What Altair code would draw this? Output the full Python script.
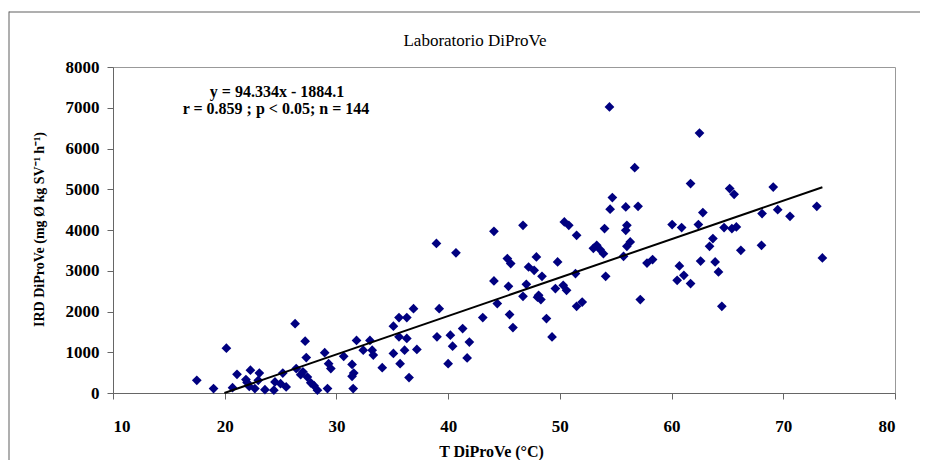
import altair as alt
import pandas as pd

# ---- data ----
temp = [
    17.5, 19.0, 20.15, 20.7, 21.1, 21.9, 22.3, 23.1, 22.7, 22.2, 23.6, 23.0, 24.4, 24.5,
    25.2, 25.0, 26.3, 27.2, 27.3, 26.4, 27.0, 27.4, 27.7, 28.3, 28.95, 29.3, 29.5, 29.2,
    25.5, 28.0, 22.0,
    38.95, 40.7, 36.9, 39.2, 35.6, 36.3, 43.1, 35.1, 41.3, 39.0, 40.2, 35.6, 36.3, 31.8,
    33.0, 41.9, 40.4, 32.4, 33.2, 37.2, 35.1, 36.1, 33.3, 30.65, 41.7, 31.4, 35.7, 40.0,
    34.1, 31.55, 31.4, 36.5, 31.5,
    54.44, 56.7, 54.7, 54.5, 55.9, 57.0, 46.7, 44.1, 50.4, 50.8, 51.5, 54.0, 56.0, 55.9,
    53.3, 53.6, 53.9, 56.3, 56.0, 55.7, 45.3, 45.6, 47.9, 47.2, 47.7, 49.8, 48.4, 57.8,
    58.3, 44.1, 45.4, 47.0, 46.7, 48.1, 48.3, 49.6, 50.3, 50.6, 51.4, 54.1, 51.5, 52.0,
    57.2, 44.4, 45.5, 45.8, 48.8, 49.3,
    62.5, 61.7, 65.2, 65.6, 69.1, 62.8, 73.0, 68.1, 69.5, 70.6, 60.05, 60.9, 62.4, 64.7,
    65.4, 65.8, 63.7, 63.4, 66.2, 68.05, 62.6, 63.9, 64.2, 60.7, 61.1, 60.5, 61.7, 64.5,
    73.5,
    53.0, 48.0, 26.8,
]
ird = [
    310, 110, 1100, 130, 460, 330, 560, 490, 110, 160, 80, 310, 70, 270,
    490, 230, 1700, 1270, 870, 600, 520, 390, 250, 70, 990, 720, 600, 110,
    150, 180, 260,
    3670, 3440, 2070, 2070, 1850, 1850, 1850, 1640, 1580, 1380, 1420, 1380, 1340, 1290,
    1290, 1250, 1150, 1050, 1050, 1070, 970, 1050, 930, 900, 860, 700, 720, 720,
    620, 490, 410, 380, 110,
    7020, 5530, 4795, 4510, 4565, 4580, 4115, 3968, 4197, 4115, 3870, 4034, 4115, 3993,
    3624, 3519, 3420, 3706, 3600, 3355, 3298, 3175, 3338, 3092, 3011, 3215, 2864, 3190,
    3274, 2749, 2619, 2667, 2373, 2398, 2292, 2562, 2643, 2520, 2930, 2864, 2128, 2233,
    2292, 2194, 1924, 1605, 1826, 1375,
    6380, 5139, 5016, 4876, 5055, 4427, 4582, 4402, 4500, 4336, 4132, 4059, 4132, 4059,
    4034, 4074, 3789, 3600, 3502, 3624, 3239, 3215, 2970, 3117, 2889, 2766, 2685, 2128,
    3313,
    3550, 2350, 450,
]

# trendline given in the chart: y = 94.334x - 1884.1
slope = 94.334
intercept = -1884.1
fit_x = [19.97, 73.5]

x_ticks = [10, 20, 30, 40, 50, 60, 70, 80]
y_ticks = [0, 1000, 2000, 3000, 4000, 5000, 6000, 7000, 8000]

title_text = "Laboratorio DiProVe"
eq_line1 = "y = 94.334x - 1884.1"
eq_line2 = "r = 0.859 ; p < 0.05; n = 144"
x_title = "T DiProVe (°C)"
y_title = "IRD DiProVe (mg Ø kg SV⁻¹ h⁻¹)"

W, H = 782, 326
SERIF = "Liberation Serif"

df = pd.DataFrame({"T": temp, "IRD": ird})
line_df = pd.DataFrame({"T": fit_x})
one = pd.DataFrame({"a": [0]})

xscale = alt.Scale(domain=[10, 80], nice=False, zero=False)
yscale = alt.Scale(domain=[0, 8000], nice=False)

xaxis = alt.Axis(
    values=x_ticks, title=x_title, grid=False, format="d",
    labelFont=SERIF, labelFontSize=17, labelFontWeight="bold", labelColor="black",
    labelPadding=19, tickSize=6, tickColor="#666666", domainColor="#666666",
    titleFont=SERIF, titleFontSize=16, titleFontWeight="bold", titleColor="black",
    titleX=378, titleY=63, titleBaseline="alphabetic", titleAlign="center",
)
yaxis = alt.Axis(
    values=y_ticks, title=y_title, grid=False, format="d",
    labelFont=SERIF, labelFontSize=17, labelFontWeight="bold", labelColor="black",
    labelPadding=8, tickSize=6, tickColor="#666666", domainColor="#666666",
    titleFont=SERIF, titleFontSize=14, titleFontWeight="bold", titleColor="black",
    titleX=-70, titleY=162, titleBaseline="alphabetic", titleAlign="center", titleAngle=270,
)

# outer frame (top and left edges only, as in the reference) drawn as thin filled bars
frame_top = alt.Chart(one).mark_rect(color="#606060", strokeWidth=0).encode(
    x=alt.value(-104), x2=alt.value(1000), y=alt.value(-55.5), y2=alt.value(-54.5)
)
frame_left = alt.Chart(one).mark_rect(color="#606060", strokeWidth=0).encode(
    x=alt.value(-104.5), x2=alt.value(-103.5), y=alt.value(-55.5), y2=alt.value(600)
)

points = alt.Chart(df).mark_point(
    shape="diamond", filled=True, color="#000080", size=95, opacity=1
).encode(
    x=alt.X("T:Q", scale=xscale, axis=xaxis),
    y=alt.Y("IRD:Q", scale=yscale, axis=yaxis),
)

trend = alt.Chart(line_df).transform_calculate(
    IRD=f"{slope} * datum.T + ({intercept})"
).mark_line(color="black", strokeWidth=2).encode(
    x=alt.X("T:Q", scale=xscale),
    y=alt.Y("IRD:Q", scale=yscale),
)

title = alt.Chart(one).mark_text(
    text=title_text, font=SERIF, fontSize=17, color="black", align="center", baseline="alphabetic"
).encode(x=alt.value(362), y=alt.value(-21))

eq1 = alt.Chart(one).mark_text(
    text=eq_line1, font=SERIF, fontSize=16, fontWeight="bold", color="black",
    align="center", baseline="alphabetic"
).encode(x=alt.value(164), y=alt.value(29.5))

eq2 = alt.Chart(one).mark_text(
    text=eq_line2, font=SERIF, fontSize=16, fontWeight="bold", color="black",
    align="center", baseline="alphabetic"
).encode(x=alt.value(163), y=alt.value(46.5))

chart = alt.layer(frame_top, frame_left, points, trend, title, eq1, eq2).properties(
    width=W, height=H,
    padding={"left": 105, "top": 59, "right": 25, "bottom": 67},
    autosize=alt.AutoSizeParams(type="none"),
    background="white",
).configure_view(stroke="#999999", strokeWidth=1)

chart.save("out.html", embed_options={"renderer": "svg", "actions": False})
